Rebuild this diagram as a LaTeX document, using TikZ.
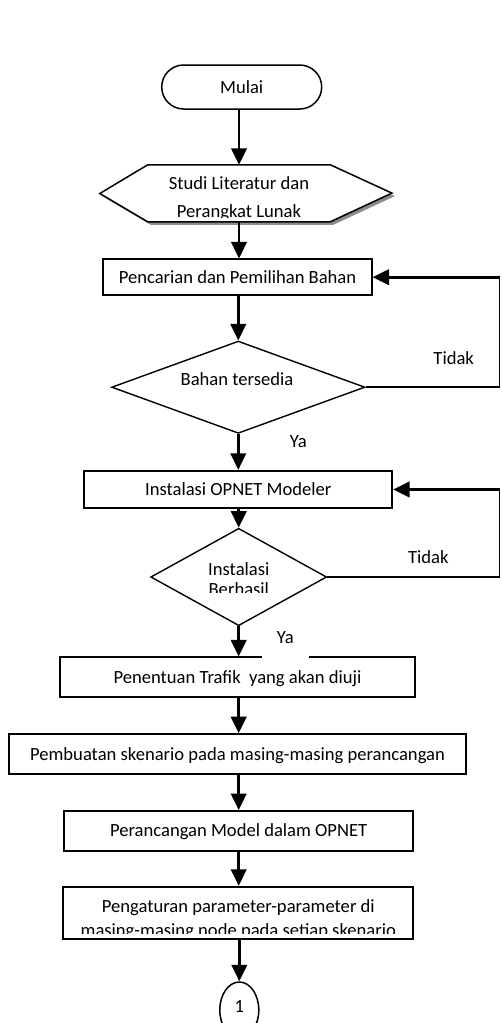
\documentclass[tikz,border=0pt]{standalone}
\usepackage{fontspec}
\setmainfont{Carlito}
\usetikzlibrary{arrows.meta,shapes.geometric}
\begin{document}
\begin{tikzpicture}[x=1pt,y=-1pt,
  every node/.style={font=\fontsize{18.6}{22.3}\selectfont, inner sep=0pt},
  txt/.style={text height=12pt, text depth=0pt},
  box/.style={draw, rectangle, line width=1.8pt, txt},
  decision/.style={draw, diamond, line width=1.4pt},
  arr/.style={line width=2.6pt, -{Triangle[length=16.5pt,width=15.5pt]}},
  link/.style={line width=1.6pt},
  rail/.style={line width=1.2pt},
]
\path[use as bounding box, clip] (0,0) rectangle (501,1023);

% start terminal
\node[box, line width=1.5pt, rounded corners=22pt, minimum width=160pt, minimum height=44pt] (mulai) at (241.7,87) {Mulai};

% preparation (hexagon) with its shadow
\node[minimum width=182pt, minimum height=56.7pt] (hex) at (239,193.3) {};
\fill[black!45] ([shift={(3,3)}]hex.north west) -- ([shift={(3,3)}]hex.north east) -- ++(61.7,28.35)
  -- ([shift={(3,3)}]hex.south east) -- ([shift={(3,3)}]hex.south west) -- ++(-48,-28.35) -- cycle;
\draw[line width=1.5pt, fill=white] (hex.north west) -- (hex.north east) -- ++(61.7,28.35)
  -- (hex.south east) -- (hex.south west) -- ++(-48,-28.35) -- cycle;
\begin{scope}
  \clip (100,165) rectangle (392,217.5);
  \node[align=center, font=\fontsize{18.6}{28.3}\selectfont] (hextext) at (239,198.9) {Studi Literatur dan\\Perangkat Lunak};
\end{scope}

% material search
\node[box, minimum width=268.4pt, minimum height=35.7pt] (p1) at (237.5,277.2) {Pencarian dan Pemilihan Bahan};
\node[decision, minimum width=253.3pt, minimum height=92.3pt] (d1) at (238.3,387.2) {};
\node[txt] (d1t) at (237,379.2) {Bahan tersedia};

% installation
\node[box, minimum width=308pt, minimum height=37.6pt] (inst) at (238.3,489.5) {Instalasi OPNET Modeler};
\node[decision, minimum width=176pt, minimum height=97.4pt] (d2) at (238.7,577) {};
\begin{scope}
  \clip (150,528) rectangle (327,592.7);
  \node[align=center, font=\fontsize{18.6}{20.4}\selectfont] (d2t) at (238.8,579.3) {Instalasi\\Berhasil};
\end{scope}

% remaining steps
\node[box, minimum width=355pt, minimum height=40pt] (pen) at (237.5,677.3) {Penentuan Trafik~ yang akan diuji};
\node[box, minimum width=457pt, minimum height=40.3pt] (pem) at (237.5,754.2) {Pembuatan skenario pada masing-masing perancangan};
\node[box, minimum width=349.3pt, minimum height=39.7pt] (per) at (238.7,830.8) {Perancangan Model dalam OPNET};
\node[box, minimum width=350pt, minimum height=52.6pt] (pg) at (238.3,913) {};
\begin{scope}
  \clip (64,887) rectangle (413,933.3);
  \node[align=center, font=\fontsize{18.6}{23.7}\selectfont] (pgt) at (238.3,919.3) {Pengaturan parameter-parameter di\\masing-masing node pada setiap skenario};
\end{scope}

% off-page connector
\node[draw, ellipse, line width=1.5pt, minimum width=39pt, minimum height=56pt, text height=12pt, text depth=6.6pt] (c1) at (239.3,1010) {1};

% main flow
\draw[arr] (hex.north |- mulai.south) -- (hex.north);
\draw[arr] (hex.south) -- (hex.south |- p1.north);
\draw[arr] (p1.south -| d1.north) -- (d1.north);
\draw[arr] (d1.south) -- (d1.south |- inst.north);
\draw[arr] (inst.south -| d2.north) -- (d2.north);
\draw[arr] (d2.south) -- (d2.south |- pen.north);
\draw[arr] (per.north |- pen.south) -- (per.north |- pem.north);
\draw[arr] (per.north |- pem.south) -- (per.north);
\draw[arr] (per.south) -- (per.south |- pg.north);
\draw[arr] (pg.south -| c1.north) -- (c1.north);

% loops back on "Tidak"
\coordinate (railx) at (499.6,0);
\draw[link] (d1.east) -- (d1.east -| railx);
\draw[rail] (d1.east -| railx) -- (p1.east -| railx);
\draw[arr] (p1.east -| railx) -- (p1.east);
\draw[link] (d2.east) -- (d2.east -| railx);
\draw[rail] (d2.east -| railx) -- (inst.east -| railx);
\draw[arr] (inst.east -| railx) -- (inst.east);

% branch labels
\node[txt] (tidak1) at (453.7,358) {Tidak};
\node[txt] (ya1) at (298.3,441.7) {Ya};
\node[txt] (tidak2) at (428.3,557.2) {Tidak};
\node[fill=white, text height=12pt, text depth=14pt, inner ysep=1.5pt, minimum width=47.3pt, anchor=base] (ya2) at (285.3,643.3) {Ya};
\end{tikzpicture}
\end{document}
